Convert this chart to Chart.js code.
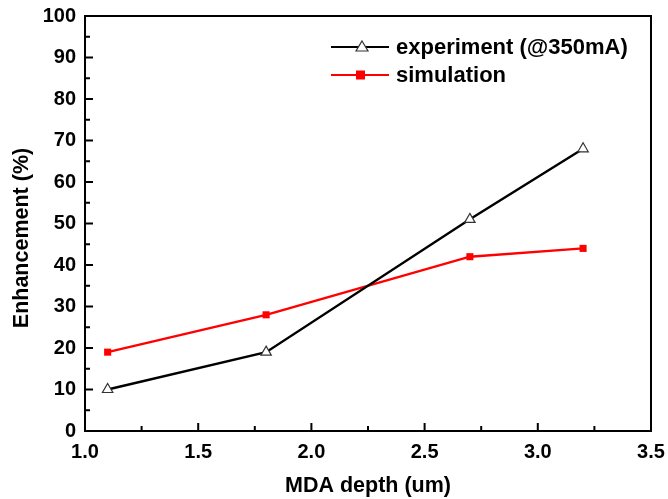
<!DOCTYPE html>
<html>
<head>
<meta charset="utf-8">
<script src="https://cdn.jsdelivr.net/npm/chart.js@4"></script>
<style>
  html, body { margin: 0; padding: 0; background: #fff; }
  #wrap { width: 668px; height: 499px; }
</style>
</head>
<body>
<div id="wrap"><canvas id="c" width="668" height="499"></canvas></div>
<script>
var depth = [1.1, 1.8, 2.7, 3.2];
var experiment = [10, 19, 51, 68];
var simulation = [19, 28, 42, 44];
var xTicks = [1.0, 1.5, 2.0, 2.5, 3.0, 3.5];
var yTicks = [0, 10, 20, 30, 40, 50, 60, 70, 80, 90, 100];
var seriesNames = ['experiment (@350mA)', 'simulation'];
var yTitle = 'Enhancement (%)';

function pts(ys) {
    var out = [];
    for (var i = 0; i < depth.length; i++) {
        out.push({x: depth[i], y: ys[i]});
    }
    return out;
}

var FONT = 'Liberation Sans, Arial, sans-serif';

// inward ticks, frame, y title and legend drawn by hand
var frame = {
    id: 'frame',
    afterDatasetsDraw: function(chart) {
        var ctx = chart.ctx;
        var a = chart.chartArea;
        var xs = chart.scales.x, ys = chart.scales.y;
        ctx.save();
        ctx.strokeStyle = '#000';
        ctx.lineWidth = 2;
        ctx.strokeRect(a.left, a.top, a.right - a.left, a.bottom - a.top);
        ctx.beginPath();
        for (var v = 1.0; v <= 3.5001; v += 0.25) {
            var px = xs.getPixelForValue(v);
            var len = (Math.round(v * 100) % 50 === 0) ? 8 : 5;
            ctx.moveTo(px, a.bottom);
            ctx.lineTo(px, a.bottom - len);
        }
        for (var w = 0; w <= 100; w += 5) {
            var py = ys.getPixelForValue(w);
            var l2 = (w % 10 === 0) ? 8 : 5;
            ctx.moveTo(a.left, py);
            ctx.lineTo(a.left + l2, py);
        }
        ctx.stroke();

        // y title, a bit below the middle like the original
        ctx.save();
        ctx.translate(22, 238);
        ctx.rotate(-Math.PI / 2);
        ctx.font = 'bold 21.5px ' + FONT;
        ctx.fillStyle = '#000';
        ctx.textAlign = 'center';
        ctx.textBaseline = 'middle';
        ctx.fillText(yTitle, 0, 0);
        ctx.restore();

        // legend
        var rows = [
            {y: 47, color: '#000', style: 'triangle'},
            {y: 75, color: '#ff0000', style: 'rect'}
        ];
        ctx.font = 'bold 22px ' + FONT;
        ctx.textBaseline = 'middle';
        ctx.textAlign = 'left';
        for (var i = 0; i < rows.length; i++) {
            var r = rows[i];
            ctx.strokeStyle = r.color;
            ctx.lineWidth = 2;
            ctx.beginPath();
            ctx.moveTo(331, r.y);
            ctx.lineTo(389, r.y);
            ctx.stroke();
            if (r.style === 'triangle') {
                ctx.fillStyle = '#fff';
                ctx.strokeStyle = '#333';
                ctx.lineWidth = 1.2;
                ctx.beginPath();
                ctx.moveTo(362, r.y - 6);
                ctx.lineTo(368, r.y + 4);
                ctx.lineTo(356, r.y + 4);
                ctx.closePath();
                ctx.fill();
                ctx.stroke();
            } else {
                ctx.fillStyle = '#ff0000';
                ctx.fillRect(356, r.y - 4.5, 9, 9);
            }
            ctx.fillStyle = '#000';
            ctx.fillText(seriesNames[i], 396, r.y + 1);
        }
        ctx.restore();
    }
};

var chart = new Chart(document.getElementById('c'), {
    type: 'scatter',
    data: {
        datasets: [{
            label: seriesNames[0],
            data: pts(experiment),
            showLine: true,
            borderColor: '#000',
            borderWidth: 2.4,
            pointStyle: 'triangle',
            pointRadius: 6,
            pointBorderWidth: 1.2,
            pointBackgroundColor: '#fff',
            pointBorderColor: '#333',
            order: 1
        }, {
            label: seriesNames[1],
            data: pts(simulation),
            showLine: true,
            borderColor: '#ff0000',
            borderWidth: 2.4,
            pointStyle: 'rect',
            pointRadius: 5,
            pointBorderWidth: 0,
            pointBackgroundColor: '#ff0000',
            pointBorderColor: '#ff0000',
            order: 2
        }]
    },
    options: {
        responsive: false,
        animation: false,
        layout: { padding: { top: 16, right: 17, left: 0, bottom: 0 } },
        plugins: { legend: { display: false }, tooltip: { enabled: false } },
        scales: {
            x: {
                type: 'linear',
                min: 1.0,
                max: 3.5,
                afterBuildTicks: function(s) { s.ticks = xTicks.map(function(v) { return {value: v}; }); },
                afterFit: function(s) {
                    s.height = 68;
                    s.paddingLeft = 0;
                    s.paddingRight = 0;
                },
                grid: { display: false, drawTicks: false },
                border: { display: false },
                ticks: {
                    padding: 9,
                    color: '#000',
                    font: { family: FONT, size: 20, weight: 'bold' },
                    callback: function(v) { return v.toFixed(1); }
                },
                title: {
                    display: true,
                    text: 'MDA depth (um)',
                    color: '#000',
                    font: { family: FONT, size: 21.5, weight: 'bold' },
                    padding: { top: 4, bottom: 0 }
                }
            },
            y: {
                min: 0,
                max: 100,
                afterBuildTicks: function(s) { s.ticks = yTicks.map(function(v) { return {value: v}; }); },
                afterFit: function(s) {
                    s.width = 85;
                    s.paddingTop = 0;
                    s.paddingBottom = 0;
                },
                grid: { display: false, drawTicks: false },
                border: { display: false },
                ticks: {
                    padding: 9,
                    color: '#000',
                    font: { family: FONT, size: 20, weight: 'bold' }
                }
            }
        }
    },
    plugins: [frame]
});
</script>
</body>
</html>
